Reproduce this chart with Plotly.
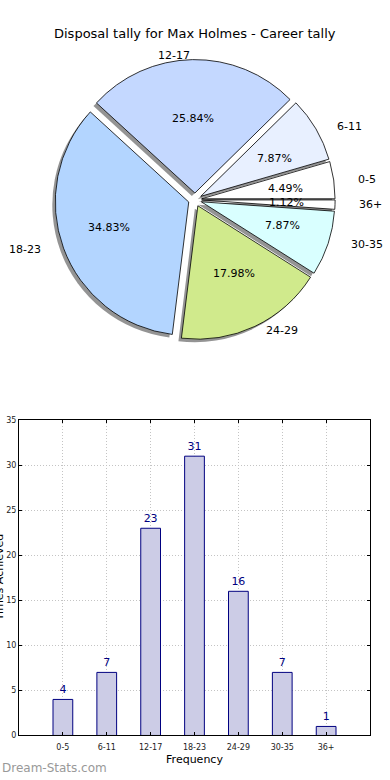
import math
import plotly.graph_objects as go

# ---- data ----
categories = ["0-5", "6-11", "12-17", "18-23", "24-29", "30-35", "36+"]
counts = [4, 7, 23, 31, 16, 7, 1]
pie_colors = ["#ffffff", "#e8f0ff", "#c4d8ff", "#b3d5ff", "#d0ea8c", "#d9ffff", "#ffffff"]
title_text = "Disposal tally for Max Holmes - Career tally"
x_title = "Frequency"
y_title = "Times Achieved"
watermark = "Dream-Stats.com"

W, H = 390, 780
FONT = "DejaVu Sans"


def px(x):
    return x / W


def py(y):
    return 1 - y / H


# pie geometry (pixels)
cx, cy = 195, 198
r_pie = 135
pull = 0.05
half = r_pie * (1 + pull)
dom_x = [px(cx - half), px(cx + half)]
dom_y = [py(cy + half), py(cy - half)]
sh = 3  # shadow offset (pixels)

total = sum(counts)
# plotly (counterclockwise): rotation marks the ccw edge of the first slice;
# start first slice at 3 o'clock like matplotlib
rotation = 90 - counts[0] / total * 360

fig = go.Figure()

pie_common = dict(
    labels=categories, values=counts, sort=False, direction="counterclockwise",
    rotation=rotation, pull=[pull] * len(counts), textinfo="none", hoverinfo="skip",
    showlegend=False,
)
# shadow
fig.add_trace(go.Pie(
    marker=dict(colors=["rgba(0,0,0,0.42)"] * len(counts), line=dict(width=0)),
    domain=dict(x=[dom_x[0] - sh / W, dom_x[1] - sh / W], y=[dom_y[0] - sh / H, dom_y[1] - sh / H]),
    **pie_common,
))
# pie
fig.add_trace(go.Pie(
    marker=dict(colors=pie_colors, line=dict(color="#000000", width=0.8)),
    domain=dict(x=dom_x, y=dom_y),
    **pie_common,
))

# labels and percentages (matplotlib-like placement)
rx, ry = 141, 127
annotations = []
start = 0.0
for cat, v in zip(categories, counts):
    frac = v / total
    mid = math.radians((start + frac / 2) * 360)
    start += frac
    c, s = math.cos(mid), math.sin(mid)
    lx = cx + (1.1 + pull) * rx * c
    ly = cy - (1.1 + pull) * ry * s
    annotations.append(dict(
        x=px(lx), y=py(ly), xref="paper", yref="paper", text=cat, showarrow=False,
        xanchor="right" if c < 0 else "left", yanchor="middle",
        font=dict(family=FONT, size=11, color="#000000"),
    ))
    tx = cx + (0.6 + pull) * rx * c
    ty = cy - (0.6 + pull) * ry * s
    annotations.append(dict(
        x=px(tx), y=py(ty), xref="paper", yref="paper", text=f"{frac * 100:.2f}%", showarrow=False,
        xanchor="center", yanchor="middle",
        font=dict(family=FONT, size=11, color="#000000"),
    ))

# title
annotations.append(dict(
    x=px(195), y=py(30), xref="paper", yref="paper", text=title_text, showarrow=False,
    xanchor="center", yanchor="middle", font=dict(family=FONT, size=13, color="#000000"),
))
# y title (clipped at the left edge, as in the reference)
annotations.append(dict(
    x=px(-1), y=py(580), xref="paper", yref="paper", text=y_title, showarrow=False,
    textangle=-90, xanchor="center", yanchor="middle",
    font=dict(family=FONT, size=11, color="#000000"),
))
# watermark
annotations.append(dict(
    x=px(0), y=py(773), xref="paper", yref="paper", text=watermark, showarrow=False,
    xanchor="left", yanchor="middle", font=dict(family=FONT, size=12, color="#999999"),
))

# bar chart
fig.add_trace(go.Bar(
    x=categories, y=counts, width=0.45,
    marker=dict(color="#ccccE6", line=dict(color="#000080", width=1)),
    text=[str(v) for v in counts], textposition="outside",
    textfont=dict(family=FONT, size=11, color="#000080"),
    cliponaxis=False, hoverinfo="skip", showlegend=False,
))

axis_common = dict(
    showline=True, linecolor="#000000", linewidth=1, mirror="ticks",
    ticks="inside", ticklen=3, tickcolor="#000000",
    showgrid=True, gridcolor="#c4c4c4", gridwidth=1, griddash="1px,2px",
    zeroline=False, tickfont=dict(family=FONT, size=8, color="#222222"),
)

fig.update_layout(
    width=W, height=H, margin=dict(l=0, r=0, t=0, b=0),
    paper_bgcolor="white", plot_bgcolor="white",
    annotations=annotations,
    xaxis=dict(domain=[px(19), px(370)], anchor="y", type="category", range=[-1, 7],
               ticklabelstandoff=4,
               title=dict(text=x_title, font=dict(family=FONT, size=11, color="#000000"), standoff=4),
               **axis_common),
    yaxis=dict(domain=[py(740), py(421)], anchor="x", range=[0, 35], dtick=5, **axis_common),
    font=dict(family=FONT),
)

fig.write_html("out.html", config={"displayModeBar": False},
               post_script="document.body.style.margin='0px';")
